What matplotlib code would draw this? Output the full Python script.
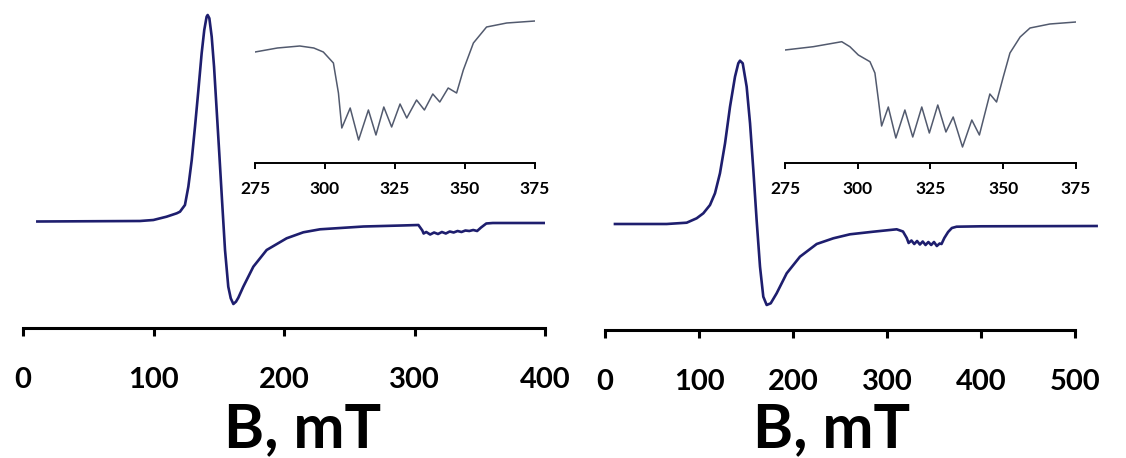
import numpy as np
import matplotlib
matplotlib.use("Agg")
import matplotlib.pyplot as plt

plt.rcParams['font.family'] = ['Lato', 'DejaVu Sans']
plt.rcParams['font.weight'] = 'bold'

# left spectrum (B in mT, signal in arbitrary units)
left_B = [11, 89.6, 99.9, 110, 117.8, 120.3, 124.1, 126.7, 129.3, 131.8, 134.4, 136.9, 138.9,
          140.7, 141.5, 142.8, 144.6, 146.4, 148.4, 150.4, 152.5, 154.8, 157.3, 159.2, 161.2,
          163.2, 165, 168.8, 176.5, 186.7, 202, 214.8, 227.6, 261, 290, 303, 306, 307, 309, 312,
          315, 318, 321, 324, 327, 330, 333, 336, 339, 342, 345, 348, 351, 355, 360, 400]
left_S = [0, 0.5, 1.5, 4.8, 8.2, 9.8, 16.5, 34.8, 61.5, 94.8, 131.5, 168.2, 191.5,
          204.8, 206.5, 203.2, 184.8, 154.8, 111.5, 68.2, 21.5, -28.5, -65.2, -76.8, -82.5,
          -80.2, -76.2, -65.2, -45.2, -28.5, -16.8, -10.8, -7.8, -5, -4, -3.5, -9, -12, -10.5, -13,
          -11, -12.5, -10.5, -12, -10, -11, -9.5, -10.5, -9, -9.5, -8.5, -9.5, -6, -2, -1.5, -1.5]

# right spectrum
right_B = [10.6, 65.6, 86.9, 97.5, 104.6, 111.7, 117, 122.3, 127.7, 133, 138.3, 141.8, 143.6,
           146.5, 150.7, 154.3, 157.8, 161.3, 164.9, 168.4, 172, 176.3, 182.6, 193.3, 207.4,
           225.2, 242.9, 260.6, 285.4, 310.3, 317, 321, 323, 326, 329, 332, 335, 338, 341, 344,
           347, 350, 353, 356, 358, 361, 365, 369, 374, 400, 523]
right_S = [0, 0, 1.3, 5.7, 10.7, 19, 30.7, 50.7, 80.7, 117.3, 147.3, 160.7, 163.3,
           160.7, 137.3, 100.7, 54, 4, -42.7, -72.7, -81, -79.3, -69.3, -49.3, -32.7,
           -20, -14.3, -10.3, -7.7, -5.3, -7.5, -14, -19, -16.5, -20, -17, -20.5, -17.5, -21, -18,
           -21, -18, -22, -19.5, -20, -14, -8, -4, -2.7, -2.3, -2]

# insets (zoom on the hyperfine region)
left_in_B = [275, 283, 291, 296, 299.4, 303, 304.8, 306, 309, 312, 315.5, 318.2, 321, 323.8, 326.8,
             329.2, 332.7, 335.5, 338.5, 341, 344, 347, 349.4, 353, 357.7, 364.9, 375]
left_in_S = [111, 115, 117, 115, 111, 100, 70, 35, 55, 23, 53, 28, 56, 36, 59,
             45, 63, 53, 69, 61, 75, 70, 93, 120, 136, 140, 142]

right_in_B = [275, 284.7, 294.5, 297.3, 300.2, 304.2, 305.9, 307.1, 308.2, 310.5, 313.1, 316.2, 318.9,
              322, 324.6, 327.5, 330.3, 332.8, 336, 339.2, 341.8, 345.4, 347.7, 350, 352.3, 355.8,
              359.2, 366, 375]
right_in_S = [113, 116.3, 121.3, 116.3, 108, 101.3, 90, 63, 37, 56, 25, 53, 26,
              56, 30, 58, 31, 46, 16, 43, 28, 69, 61, 86, 110, 126,
              135, 139, 141]

main_ticks_left = [0, 100, 200, 300, 400]
main_ticks_right = [0, 100, 200, 300, 400, 500]
inset_ticks = [275, 300, 325, 350, 375]

W, H = 1126, 458
fig = plt.figure(figsize=(W / 100, H / 100), dpi=100)


def rect(x0, x1, ytop, ybot):
    return [x0 / W, (H - ybot) / H, (x1 - x0) / W, (ybot - ytop) / H]


def style_axis(ax, ticks, lw, size, length, pad):
    for s in ['left', 'right', 'top']:
        ax.spines[s].set_visible(False)
    ax.spines['bottom'].set_linewidth(lw)
    ax.spines['bottom'].set_bounds(ticks[0], ticks[-1])
    ax.set_yticks([])
    ax.set_xticks(ticks)
    ax.tick_params(axis='x', direction='out', length=length, width=lw, pad=pad,
                   labelsize=size, colors='black')
    for t in ax.get_xticklabels():
        t.set_fontweight('bold')


navy = '#1e1e6e'
inset_col = '#525a6e'

# left main
ax1 = fig.add_axes(rect(23, 545, 5, 328))
ax1.plot(left_B, left_S, color=navy, lw=1.9)
ax1.set_xlim(0, 400)
ax1.set_ylim(-106.5, 216.5)
ax1.patch.set_alpha(0)
style_axis(ax1, main_ticks_left, 2.2, 21, 6, 22)

# right main
ax2 = fig.add_axes(rect(605, 1098.5, 5, 330))
ax2.plot(right_B, right_S, color=navy, lw=1.9)
ax2.set_xlim(0, 525)
ax2.set_ylim(-106, 219)
ax2.patch.set_alpha(0)
style_axis(ax2, main_ticks_right, 2.2, 21, 6, 22)

# insets
in1 = fig.add_axes(rect(255, 535, 5, 163))
in1.plot(left_in_B, left_in_S, color=inset_col, lw=1.1)
in1.set_xlim(275, 375)
in1.set_ylim(0, 158)
in1.patch.set_alpha(0)
style_axis(in1, inset_ticks, 1.4, 12.5, 4, 9)

in2 = fig.add_axes(rect(785, 1076, 5, 163))
in2.plot(right_in_B, right_in_S, color=inset_col, lw=1.1)
in2.set_xlim(275, 375)
in2.set_ylim(0, 158)
in2.patch.set_alpha(0)
style_axis(in2, inset_ticks, 1.4, 12.5, 4, 9)

fig.text(303 / W, (H - 447) / H, 'B, mT', ha='center', va='baseline', fontsize=44, fontweight='bold')
fig.text(832 / W, (H - 447) / H, 'B, mT', ha='center', va='baseline', fontsize=44, fontweight='bold')

fig.savefig('out.png', dpi=100)
